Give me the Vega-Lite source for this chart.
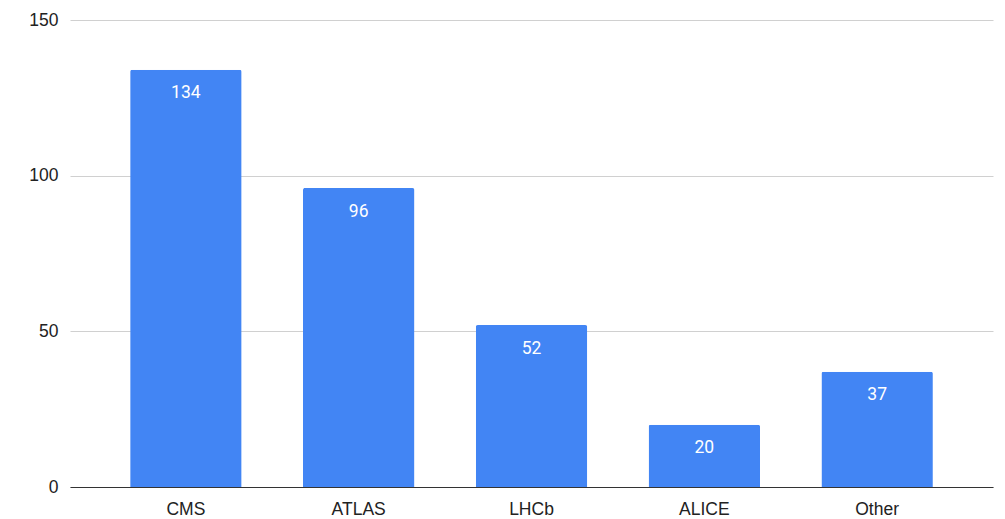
{
  "$schema": "https://vega.github.io/schema/vega-lite/v6.json",
  "width": 923,
  "height": 467,
  "autosize": {"type": "none"},
  "padding": {"left": 70, "top": 20, "right": 12, "bottom": 32},
  "background": "white",
  "config": {"view": {"stroke": null}},
  "data": {
    "values": [
      {"experiment": "CMS", "count": 134},
      {"experiment": "ATLAS", "count": 96},
      {"experiment": "LHCb", "count": 52},
      {"experiment": "ALICE", "count": 20},
      {"experiment": "Other", "count": 37}
    ]
  },
  "encoding": {
    "x": {
      "field": "experiment",
      "type": "nominal",
      "sort": null,
      "scale": {"paddingInner": 0.355, "paddingOuter": 0.348},
      "axis": {
        "title": null,
        "labelAngle": 0,
        "labelFont": "Liberation Sans",
        "labelFontSize": 17.5,
        "labelColor": "#222222",
        "labelPadding": 13,
        "ticks": false,
        "domainColor": "#333333",
        "domainWidth": 1.2
      }
    },
    "y": {
      "field": "count",
      "type": "quantitative",
      "scale": {"domain": [0, 150]},
      "axis": {
        "title": null,
        "values": [0, 50, 100, 150],
        "labelFont": "Liberation Sans",
        "labelFontSize": 17.5,
        "labelColor": "#222222",
        "labelPadding": 12,
        "ticks": false,
        "domain": false,
        "gridColor": "#d0d0d0",
        "gridWidth": 1
      }
    }
  },
  "layer": [
    {
      "mark": {"type": "bar", "color": "#4285F4", "cornerRadiusTopLeft": 2, "cornerRadiusTopRight": 2}
    },
    {
      "mark": {"type": "text", "color": "white", "font": "Roboto", "fontSize": 17.5, "baseline": "middle", "dy": 23.5},
      "encoding": {"text": {"field": "count", "type": "quantitative"}}
    }
  ]
}
